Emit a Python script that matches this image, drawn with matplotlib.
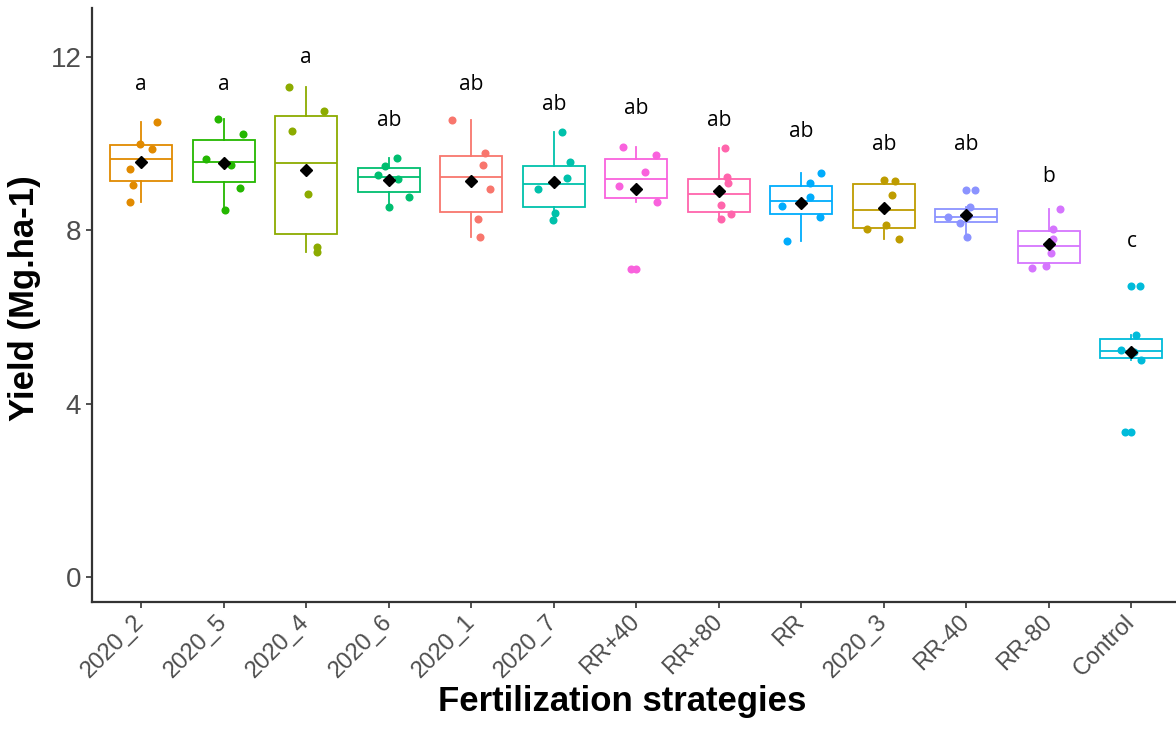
import matplotlib
matplotlib.use("Agg")
import matplotlib.pyplot as plt
from matplotlib import font_manager
import numpy as np

# strategies in plotting order
categories = ["2020_2", "2020_5", "2020_4", "2020_6", "2020_1", "2020_7",
              "RR+40", "RR+80", "RR", "2020_3", "RR-40", "RR-80", "Control"]

# yields (Mg/ha), 6 reps each
y_2020_2 = [10.50, 10.00, 9.87, 9.41, 9.04, 8.66]
y_2020_5 = [10.56, 10.22, 9.64, 9.50, 8.98, 8.47]
y_2020_4 = [11.30, 10.75, 10.29, 8.83, 7.62, 7.50]
y_2020_6 = [9.67, 9.48, 9.27, 9.18, 8.77, 8.54]
y_2020_1 = [10.54, 9.79, 9.50, 8.95, 8.26, 7.84]
y_2020_7 = [10.26, 9.57, 9.20, 8.95, 8.40, 8.24]
y_rr_p40 = [9.91, 9.73, 9.35, 9.02, 8.66, 7.10]
y_rr_p80 = [9.89, 9.23, 9.08, 8.58, 8.37, 8.25]
y_rr = [9.31, 9.10, 8.77, 8.56, 8.30, 7.75]
y_2020_3 = [9.16, 9.14, 8.81, 8.12, 8.04, 7.79]
y_rr_m40 = [8.94, 8.54, 8.32, 8.30, 8.16, 7.85]
y_rr_m80 = [8.48, 8.04, 7.81, 7.47, 7.17, 7.14]
y_control = [6.71, 5.59, 5.24, 5.20, 5.01, 3.35]

yields = [y_2020_2, y_2020_5, y_2020_4, y_2020_6, y_2020_1, y_2020_7,
          y_rr_p40, y_rr_p80, y_rr, y_2020_3, y_rr_m40, y_rr_m80, y_control]

# Tukey letters and where they sit
letters = ["a", "a", "a", "ab", "ab", "ab", "ab", "ab", "ab", "ab", "ab", "b", "c"]
letter_y = [11.35, 11.35, 11.98, 10.54, 11.35, 10.89, 10.81, 10.54, 10.27,
            9.97, 9.97, 9.23, 7.74]

# ggplot hue colours (alphabetical factor levels)
colors = {"2020_1": "#F8766D", "2020_2": "#E18A00", "2020_3": "#BE9C00",
          "2020_4": "#8CAB00", "2020_5": "#24B700", "2020_6": "#00BE70",
          "2020_7": "#00C1AB", "Control": "#00BBDA", "RR": "#00ACFC",
          "RR-40": "#8B93FF", "RR-80": "#D575FE", "RR+40": "#F962DD",
          "RR+80": "#FF65AC"}

# horizontal jitter of the points, as drawn
jitter = [[0.19, -0.02, 0.13, -0.14, -0.10, -0.14],
          [-0.07, 0.23, -0.22, 0.09, 0.20, 0.02],
          [-0.21, 0.21, -0.17, 0.02, 0.13, 0.13],
          [0.10, -0.05, -0.13, 0.11, 0.24, 0.00],
          [-0.24, 0.17, 0.14, 0.23, 0.08, 0.10],
          [0.10, 0.19, 0.16, -0.19, 0.01, -0.01],
          [-0.16, 0.24, 0.10, -0.21, 0.25, -0.07],
          [0.08, 0.10, 0.11, 0.02, 0.15, 0.02],
          [0.24, 0.11, 0.11, -0.23, 0.22, -0.18],
          [0.00, 0.14, 0.10, 0.02, -0.21, 0.18],
          [0.10, 0.04, 0.02, -0.22, -0.08, 0.01],
          [0.13, 0.05, 0.05, 0.02, -0.04, -0.21],
          [0.10, 0.05, -0.13, 0.03, 0.12, -0.08]]

# narrow font for the rotated labels if it is there
names = {f.name for f in font_manager.fontManager.ttflist}
xtick_font = "Liberation Sans Narrow" if "Liberation Sans Narrow" in names else "Liberation Sans"
xtick_size = 19 if xtick_font == "Liberation Sans Narrow" else 17

fig = plt.figure(figsize=(11.76, 7.49), dpi=100)
ax = fig.add_axes([0.078, 0.196, 0.922, 0.793])

for i, cat in enumerate(categories):
    pos = i + 1
    c = colors[cat]
    vals = np.array(yields[i])
    ax.boxplot(vals, positions=[pos], widths=0.75, patch_artist=True,
               showcaps=False, whis=1.5,
               boxprops=dict(facecolor="white", edgecolor=c, linewidth=1.3),
               medianprops=dict(color=c, linewidth=1.3),
               whiskerprops=dict(color=c, linewidth=1.3),
               flierprops=dict(marker="o", markerfacecolor=c, markeredgecolor="none",
                               markersize=5.8),
               zorder=2)
    ax.plot(pos + np.array(jitter[i]), vals, "o", color=c, markersize=5.8,
            markeredgecolor="none", zorder=3)
    ax.plot(pos, vals.mean(), "D", color="black", markersize=6.5, zorder=4)
    ax.text(pos, letter_y[i], letters[i], ha="center", va="center",
            fontsize=15, family="Open Sans", color="black")

ax.set_xlim(0.4, 13.54)
ax.set_ylim(-0.576, 13.12)
ax.set_yticks([0, 4, 8, 12])
ax.set_xticks(range(1, len(categories) + 1))
ax.set_xticklabels(categories, rotation=45, ha="right", va="center",
                   rotation_mode="anchor", family=xtick_font, fontsize=xtick_size)

for s in ["top", "right"]:
    ax.spines[s].set_visible(False)
for s in ["left", "bottom"]:
    ax.spines[s].set_color("#333333")
    ax.spines[s].set_linewidth(1.6)
ax.tick_params(colors="#333333", length=4, width=1.2, labelcolor="#4D4D4D")
ax.tick_params(axis="y", labelsize=20)
ax.tick_params(axis="x", pad=8)
for lab in ax.get_yticklabels():
    lab.set_family("Liberation Sans")

fig.text(25 / 1176, 1 - 298 / 749, "Yield (Mg.ha-1)", rotation=90,
         ha="center", va="center", fontsize=25, fontweight="bold",
         family="Liberation Sans")
fig.text(622 / 1176, 1 - 702 / 749, "Fertilization strategies",
         ha="center", va="center", fontsize=25, fontweight="bold",
         family="Liberation Sans")

fig.savefig("out.png", dpi=100)
